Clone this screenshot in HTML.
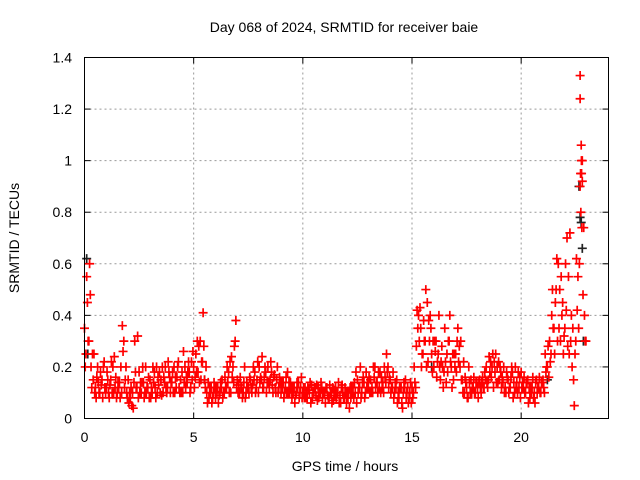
<!DOCTYPE html>
<html><head><meta charset="utf-8"><style>
body{margin:0;background:#fff}
svg{display:block;font-family:"Liberation Sans",sans-serif}
</style></head><body>
<svg id="chart" width="640" height="480">
<text x="344" y="32" text-anchor="middle" font-size="14">Day 068 of 2024, SRMTID for receiver baie</text>
<text x="345" y="471" text-anchor="middle" font-size="14">GPS time / hours</text>
<text transform="translate(19,238) rotate(-90)" text-anchor="middle" font-size="14">SRMTID / TECUs</text>
<g id="grid"></g>
<g id="ticks"></g>
<g id="black-series"></g>
<g id="red-series"></g>
<rect x="84.5" y="57.5" width="524" height="361" fill="none" stroke="#000" stroke-width="1"/>
</svg>
<script>
const xTicks=[0,5,10,15,20];
const yTicks=[0,0.2,0.4,0.6,0.8,1,1.2,1.4];
const yTickLabels=["0","0.2","0.4","0.6","0.8","1","1.2","1.4"];
const redA=[0.35,0.55,0.3,0.2,0.15,0.12,0.2,0.1,0.15,0.22,
0.12,0.1,0.15,0.2,0.12,0.1,0.14,0.1,0.3,0.2,
0.15,0.08,0.1,0.3,0.12,0.18,0.1,0.14,0.2,0.12,
0.15,0.1,0.18,0.2,0.13,0.15,0.1,0.2,0.12,0.16,
0.14,0.2,0.12,0.22,0.15,0.1,0.2,0.14,0.18,0.22,
0.2,0.25,0.18,0.3,0.22,0.15,0.1,0.08,0.12,0.1,
0.08,0.12,0.1,0.15,0.1,0.12,0.18,0.1,0.2,0.3,
0.15,0.1,0.12,0.14,0.1,0.12,0.15,0.13,0.18,0.15,
0.2,0.15,0.12,0.18,0.2,0.15,0.13,0.17,0.15,0.12,
0.1,0.14,0.12,0.18,0.1,0.08,0.12,0.1,0.14,0.12,
0.1,0.12,0.08,0.1,0.13,0.1,0.09,0.12,0.1,0.08,
0.1,0.12,0.08,0.1,0.07,0.12,0.1,0.09,0.13,0.08,
0.06,0.1,0.08,0.12,0.1,0.15,0.12,0.1,0.14,0.18,
0.12,0.15,0.1,0.2,0.14,0.12,0.16,0.1,0.14,0.2,
0.15,0.12,0.1,0.15,0.08,0.12,0.1,0.15,0.12,0.1,
0.12,0.2,0.28,0.4,0.35,0.25,0.3,0.45,0.3,0.25,
0.2,0.3,0.25,0.15,0.2,0.35,0.25,0.3,0.2,0.15,
0.25,0.35,0.2,0.15,0.1,0.12,0.2,0.15,0.12,0.1,
0.12,0.15,0.14,0.12,0.2,0.15,0.22,0.25,0.18,0.2,
0.15,0.12,0.2,0.1,0.15,0.12,0.18,0.1,0.14,0.12,
0.18,0.12,0.1,0.15,0.08,0.12,0.1,0.15,0.12,0.1,
0.15,0.25,0.2,0.3,0.4,0.35,0.5,0.6,0.3,0.45,
0.35,0.7,0.25,0.4,0.15,0.3,0.55,0.9,1.0,0.4];
const redB=[0.2,0.45,0.6,0.12,0.25,0.08,0.14,0.18,0.08,0.12,
0.18,0.08,0.22,0.1,0.16,0.14,0.08,0.36,0.12,0.1,
0.06,0.12,0.04,0.18,0.32,0.1,0.14,0.08,0.1,0.16,
0.08,0.2,0.12,0.1,0.18,0.09,0.16,0.12,0.22,0.1,
0.18,0.1,0.16,0.12,0.1,0.26,0.12,0.18,0.1,0.15,
0.12,0.18,0.28,0.15,0.41,0.12,0.06,0.12,0.06,0.14,
0.12,0.06,0.14,0.08,0.16,0.2,0.1,0.24,0.14,0.38,
0.1,0.16,0.08,0.2,0.14,0.1,0.12,0.2,0.1,0.22,
0.14,0.24,0.16,0.1,0.14,0.22,0.1,0.12,0.2,0.16,
0.14,0.08,0.16,0.1,0.14,0.12,0.06,0.14,0.08,0.16,
0.12,0.08,0.12,0.14,0.08,0.12,0.13,0.08,0.14,0.1,
0.06,0.09,0.13,0.06,0.11,0.08,0.14,0.06,0.1,0.12,
0.1,0.04,0.12,0.08,0.18,0.1,0.2,0.14,0.08,0.12,
0.16,0.1,0.2,0.12,0.1,0.18,0.12,0.2,0.25,0.12,
0.1,0.18,0.14,0.06,0.12,0.06,0.14,0.08,0.06,0.14,
0.08,0.14,0.42,0.3,0.2,0.38,0.5,0.22,0.4,0.18,
0.3,0.16,0.4,0.22,0.12,0.22,0.18,0.4,0.12,0.25,
0.18,0.22,0.3,0.1,0.16,0.08,0.14,0.1,0.16,0.14,
0.08,0.12,0.16,0.18,0.14,0.24,0.16,0.12,0.25,0.14,
0.2,0.16,0.1,0.18,0.1,0.16,0.08,0.2,0.1,0.16,
0.12,0.16,0.14,0.06,0.12,0.16,0.06,0.1,0.16,0.14,
0.12,0.18,0.28,0.22,0.5,0.25,0.62,0.35,0.55,0.25,
0.6,0.28,0.72,0.2,0.05,0.62,0.35,0.8,0.48,0.3];
const redC=[0.25,0.3,0.48,0.25,0.1,0.16,0.1,0.13,0.2,0.1,
0.15,0.13,0.1,0.24,0.08,0.12,0.2,0.26,0.15,0.08,
0.1,0.05,0.14,0.12,0.08,0.14,0.2,0.1,0.12,0.08,
0.12,0.14,0.08,0.16,0.1,0.2,0.14,0.1,0.18,0.14,
0.1,0.16,0.2,0.1,0.18,0.14,0.16,0.22,0.12,0.26,
0.16,0.3,0.14,0.22,0.28,0.2,0.14,0.1,0.08,0.12,
0.1,0.09,0.12,0.1,0.12,0.14,0.22,0.16,0.28,0.12,
0.13,0.12,0.1,0.08,0.12,0.16,0.1,0.15,0.12,0.1,
0.16,0.12,0.2,0.14,0.12,0.18,0.16,0.1,0.1,0.14,
0.12,0.1,0.1,0.14,0.12,0.1,0.09,0.12,0.1,0.08,
0.08,0.1,0.11,0.06,0.1,0.12,0.07,0.1,0.12,0.1,
0.12,0.08,0.1,0.12,0.09,0.1,0.06,0.12,0.08,0.1,
0.08,0.12,0.1,0.14,0.06,0.12,0.08,0.16,0.1,0.14,
0.1,0.12,0.16,0.14,0.18,0.1,0.14,0.16,0.18,0.16,
0.12,0.08,0.12,0.1,0.12,0.04,0.12,0.1,0.08,0.06,
0.1,0.12,0.35,0.43,0.25,0.3,0.2,0.38,0.35,0.3,
0.26,0.22,0.2,0.28,0.18,0.14,0.3,0.22,0.25,0.2,
0.3,0.28,0.15,0.22,0.14,0.08,0.1,0.12,0.1,0.14,
0.14,0.1,0.12,0.15,0.12,0.18,0.2,0.22,0.14,0.22,
0.18,0.14,0.12,0.16,0.12,0.2,0.14,0.12,0.18,0.08,
0.14,0.1,0.14,0.12,0.1,0.08,0.14,0.12,0.1,0.14,
0.1,0.2,0.16,0.25,0.35,0.45,0.3,0.5,0.4,0.32,
0.42,0.55,0.3,0.35,0.25,0.42,0.6,0.95,0.74,0.3];
const outlierX=[22.7,22.7,22.75,22.72,22.76,22.8,22.78];
const outlierY=[1.33,1.24,1.06,0.95,1.0,0.92,0.74];
const blackX=[0.1,0.15,5.5,15.9,21.2,22.65,22.7,22.75,22.8,22.85];
const blackY=[0.62,0.25,0.15,0.2,0.15,0.9,0.78,0.76,0.66,0.3];
const svg=document.getElementById('chart');
const NS='http://www.w3.org/2000/svg';
const X0=84.5,X1=608.5,Y0=418.5,Y1=57.5;
function xs(v){return X0+(v/24)*(X1-X0);}
function ys(v){return Y0-(v/1.4)*(Y0-Y1);}
function mk(tag,attrs,parent){const e=document.createElementNS(NS,tag);for(const k in attrs)e.setAttribute(k,attrs[k]);parent.appendChild(e);return e;}
const grid=document.getElementById('grid'),ticks=document.getElementById('ticks');
xTicks.forEach(v=>{const x=xs(v);
 if(v>0){const g=mk('line',{x1:x,x2:x,y1:Y1,y2:Y0,stroke:'#999','stroke-dasharray':'2,3'},grid);}
 const t=mk('line',{x1:x,x2:x,y1:Y0,y2:Y0-6,stroke:'#000'},ticks);
 const t2=mk('line',{x1:x,x2:x,y1:Y1,y2:Y1+6,stroke:'#000'},ticks);
 const l=mk('text',{x:x,y:442,'text-anchor':'middle','font-size':'14'},ticks);l.textContent=String(v);});
yTicks.forEach((v,i)=>{const y=ys(v);
 if(v>0&&v<1.4){const g=mk('line',{x1:X0,x2:X1,y1:y,y2:y,stroke:'#999','stroke-dasharray':'2,3'},grid);}
 const t=mk('line',{x1:X0,x2:X0+6,y1:y,y2:y,stroke:'#000'},ticks);
 const t2=mk('line',{x1:X1,x2:X1-6,y1:y,y2:y,stroke:'#000'},ticks);
 const l=mk('text',{x:72,y:y+5,'text-anchor':'end','font-size':'14'},ticks);l.textContent=yTickLabels[i];});
function plus(g,xv,yv,color){const x=xs(xv),y=ys(yv);
 const p=mk('path',{d:`M${x-4.5},${y}H${x+4.5}M${x},${y-4.5}V${y+4.5}`,stroke:color,'stroke-width':'1.7',fill:'none'},g);
 
 }
const bg=document.getElementById('black-series'),rg=document.getElementById('red-series');
blackX.forEach((x,i)=>plus(bg,x,blackY[i],'#222'));
[redA,redB,redC].forEach((arr,k)=>arr.forEach((v,i)=>plus(rg,i*0.1+k*0.033,v,'#ff0000')));
outlierX.forEach((x,i)=>plus(rg,x,outlierY[i],'#ff0000'));
</script>
</body></html>
